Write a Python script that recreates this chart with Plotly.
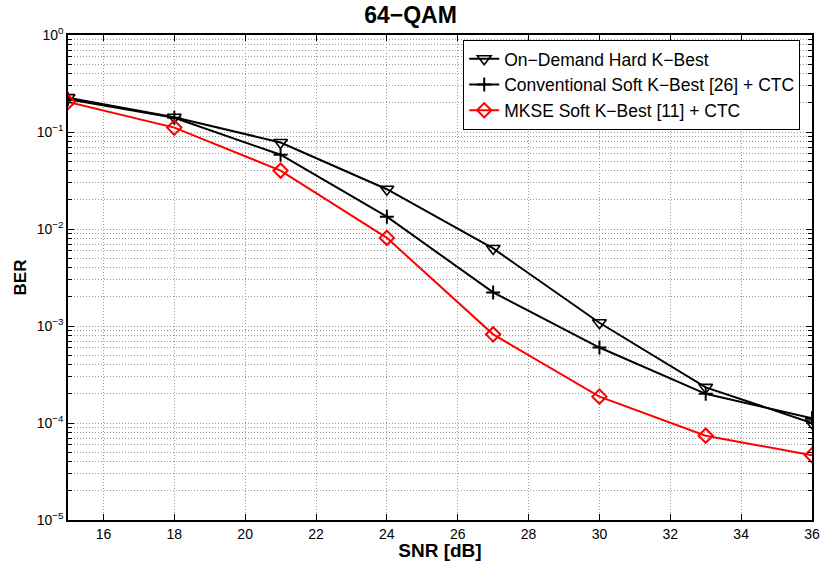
import plotly.graph_objects as go

# SNR points (dB)
snr = [15, 18, 21, 24, 27, 30, 33, 36]

# BER curves
ber_hard_kbest = [0.226, 0.142, 0.078, 0.0257, 0.0063, 0.00108, 2.33e-4, 1.0e-4]
ber_conv_soft = [0.218, 0.140, 0.0583, 0.0134, 0.00222, 6.0e-4, 2.0e-4, 1.12e-4]
ber_mkse_soft = [0.204, 0.111, 0.040, 0.0081, 8.2e-4, 1.87e-4, 7.4e-5, 4.65e-5]

series_names = [
    "On\u2212Demand Hard K\u2212Best",
    "Conventional Soft K\u2212Best [26] + CTC",
    "MKSE Soft K\u2212Best [11] + CTC",
]

x_ticks = [16, 18, 20, 22, 24, 26, 28, 30, 32, 34, 36]
y_tick_exps = [-5, -4, -3, -2, -1, 0]

font_family = "Liberation Sans, Arial, Helvetica, sans-serif"
grid_color = "#9a9a9a"
grid_dash = "1px,2px"

fig = go.Figure()

fig.add_trace(go.Scatter(
    x=snr, y=ber_hard_kbest, name=series_names[0], mode="lines+markers",
    line=dict(color="black", width=2),
    marker=dict(symbol="triangle-down-open", size=12, color="black",
                line=dict(width=1.6, color="black")),
))
fig.add_trace(go.Scatter(
    x=snr, y=ber_conv_soft, name=series_names[1], mode="lines+markers",
    line=dict(color="black", width=2),
    marker=dict(symbol="cross-thin", size=10, color="black",
                line=dict(width=2, color="black")),
))
fig.add_trace(go.Scatter(
    x=snr, y=ber_mkse_soft, name=series_names[2], mode="lines+markers",
    line=dict(color="red", width=2),
    marker=dict(symbol="diamond-open", size=11, color="red",
                line=dict(width=2, color="red")),
))

y_tickvals = [10.0 ** e for e in y_tick_exps]
y_ticktext = ["10<sup>\u2212%d</sup>" % -e if e < 0 else "10<sup>%d</sup>" % e
              for e in y_tick_exps]
y_minor = [m * 10.0 ** e for e in y_tick_exps[:-1] for m in range(2, 10)]

fig.update_layout(
    width=821, height=561,
    margin=dict(l=68, r=9, t=35, b=41),
    paper_bgcolor="white", plot_bgcolor="white",
    font=dict(family=font_family, size=14, color="black"),
    title=dict(text="<b>64\u2212QAM</b>", x=0.5, xanchor="center",
               y=1 - 15 / 561, yanchor="middle", font=dict(size=23)),
    showlegend=True,
    legend=dict(
        x=808 / 821, xref="paper", xanchor="right",
        y=0.99, yanchor="top",
        bgcolor="white", bordercolor="black", borderwidth=1,
        font=dict(size=17.5), tracegroupgap=0, itemwidth=30,
    ),
)

fig.update_xaxes(
    range=[15, 36], tickvals=x_ticks, automargin=False,
    showgrid=True, gridcolor=grid_color, griddash=grid_dash, gridwidth=1,
    ticks="inside", ticklen=6, tickcolor="black", tickwidth=1,
    showline=True, linecolor="black", linewidth=1.5, mirror="allticks",
    zeroline=False, tickfont=dict(size=14),
    title=dict(text="<b>SNR [dB]</b>", font=dict(size=19), standoff=0),
)
fig.update_yaxes(
    type="log", range=[-5, 0], tickvals=y_tickvals, ticktext=y_ticktext,
    automargin=False,
    showgrid=True, gridcolor=grid_color, griddash=grid_dash, gridwidth=1,
    ticks="inside", ticklen=6, tickcolor="black", tickwidth=1,
    showline=True, linecolor="black", linewidth=1.5, mirror="allticks",
    zeroline=False, tickfont=dict(size=14),
    minor=dict(tickvals=y_minor, showgrid=True, gridcolor=grid_color,
               griddash=grid_dash, gridwidth=1, ticks="inside", ticklen=4,
               tickcolor="black"),
    title=dict(text="<b>BER</b>", font=dict(size=17), standoff=6),
)

fig.write_html("out.html")
